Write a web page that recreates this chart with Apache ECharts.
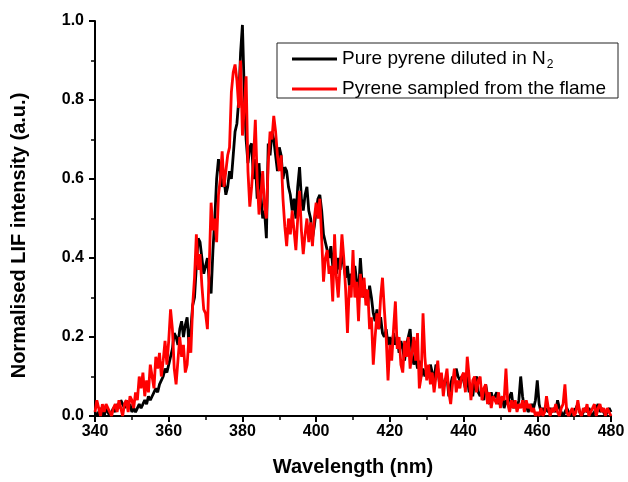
<!DOCTYPE html>
<html>
<head>
<meta charset="utf-8">
<script src="https://cdn.jsdelivr.net/npm/echarts@6/dist/echarts.min.js"></script>
<style>
html,body{margin:0;padding:0;background:#fff;}
#chart{width:628px;height:482px;}
</style>
</head>
<body>
<div id="chart"></div>
<script>
// Wavelength grid: 340 to 480 nm, sampled every 0.5 nm
var wlStart = 340, wlStep = 0.5;
var xTicks = [340, 360, 380, 400, 420, 440, 460, 480];
var yTicks = [0.0, 0.2, 0.4, 0.6, 0.8, 1.0];
var seriesNames = ['Pure pyrene diluted in N2', 'Pyrene sampled from the flame'];

// Pure pyrene diluted in N2 (normalised LIF)
var purePyrene = [
  // 340-349.5
  0.01,0.00,0.01,0.02,0.01,0.00,0.02,0.01,0.00,0.01,0.02,0.01,0.03,0.02,0.04,0.03,0.02,0.04,0.02,0.03,
  // 350-359.5
  0.01,0.02,0.01,0.02,0.03,0.02,0.03,0.04,0.03,0.05,0.04,0.05,0.06,0.07,0.06,0.08,0.09,0.10,0.12,0.11,
  // 360-369.5
  0.13,0.15,0.17,0.21,0.20,0.18,0.22,0.24,0.20,0.23,0.25,0.18,0.22,0.28,0.30,0.38,0.45,0.44,0.40,0.36,
  // 370-379.5
  0.36,0.40,0.34,0.31,0.42,0.50,0.60,0.65,0.62,0.58,0.60,0.56,0.58,0.62,0.60,0.66,0.72,0.74,0.80,0.92,
  // 380-389.5
  0.99,0.82,0.70,0.64,0.68,0.69,0.60,0.65,0.55,0.64,0.56,0.50,0.52,0.45,0.69,0.66,0.72,0.70,0.66,0.62,
  // 390-399.5
  0.68,0.66,0.60,0.63,0.62,0.58,0.56,0.52,0.55,0.50,0.58,0.63,0.55,0.52,0.56,0.58,0.52,0.50,0.45,0.48,
  // 400-409.5
  0.52,0.55,0.56,0.52,0.46,0.44,0.42,0.40,0.43,0.38,0.41,0.36,0.40,0.37,0.42,0.38,0.35,0.38,0.33,0.36,
  // 410-419.5
  0.35,0.38,0.34,0.31,0.40,0.33,0.30,0.32,0.28,0.33,0.30,0.26,0.24,0.27,0.22,0.25,0.21,0.20,0.22,0.18,
  // 420-429.5
  0.20,0.17,0.21,0.18,0.20,0.16,0.19,0.17,0.14,0.18,0.20,0.22,0.16,0.13,0.15,0.12,0.14,0.10,0.12,0.10,
  // 430-439.5
  0.12,0.10,0.13,0.11,0.09,0.13,0.12,0.08,0.10,0.07,0.09,0.10,0.05,0.08,0.10,0.09,0.12,0.10,0.09,0.10,
  // 440-449.5
  0.09,0.07,0.10,0.06,0.08,0.05,0.09,0.10,0.06,0.05,0.07,0.04,0.08,0.05,0.03,0.06,0.04,0.05,0.06,0.03,
  // 450-459.5
  0.03,0.05,0.02,0.04,0.03,0.05,0.06,0.02,0.03,0.02,0.04,0.10,0.05,0.02,0.03,0.01,0.02,0.03,0.02,0.04,
  // 460-469.5
  0.09,0.03,0.01,0.02,0.01,0.02,0.01,0.02,0.01,0.02,0.01,0.04,0.02,0.01,0.00,0.01,0.02,0.01,0.00,0.01,
  // 470-480
  0.01,0.02,0.03,0.01,0.00,0.01,0.02,0.01,0.02,0.01,0.00,0.01,0.02,0.03,0.01,0.02,0.01,0.00,0.01,0.02,0.01
];

// Pyrene sampled from the flame (normalised LIF)
var flamePyrene = [
  // 340-349.5
  0.01,0.04,0.02,0.00,0.03,0.01,0.03,0.02,0.01,0.00,0.02,0.03,0.01,0.04,0.02,0.00,0.03,0.04,0.01,0.05,
  // 350-359.5
  0.04,0.02,0.06,0.04,0.10,0.07,0.11,0.05,0.09,0.06,0.13,0.10,0.07,0.15,0.12,0.16,0.10,0.14,0.19,0.13,
  // 360-369.5
  0.19,0.27,0.22,0.12,0.08,0.14,0.20,0.15,0.18,0.11,0.13,0.20,0.16,0.28,0.35,0.46,0.37,0.41,0.33,0.27,
  // 370-379.5
  0.26,0.22,0.38,0.54,0.47,0.50,0.44,0.56,0.60,0.67,0.58,0.62,0.66,0.68,0.82,0.87,0.89,0.85,0.78,0.90,
  // 380-389.5
  0.71,0.78,0.86,0.62,0.53,0.58,0.65,0.75,0.60,0.51,0.56,0.62,0.53,0.50,0.64,0.72,0.70,0.76,0.72,0.66,
  // 390-399.5
  0.62,0.66,0.55,0.48,0.43,0.50,0.46,0.52,0.47,0.42,0.50,0.57,0.47,0.41,0.46,0.50,0.44,0.49,0.43,0.50,
  // 400-409.5
  0.54,0.50,0.55,0.45,0.34,0.40,0.42,0.36,0.38,0.29,0.46,0.35,0.30,0.38,0.46,0.40,0.32,0.21,0.33,0.30,
  // 410-419.5
  0.42,0.30,0.34,0.24,0.36,0.30,0.35,0.28,0.32,0.22,0.25,0.13,0.20,0.26,0.22,0.30,0.35,0.27,0.20,0.09,
  // 420-429.5
  0.18,0.14,0.22,0.29,0.17,0.20,0.13,0.11,0.19,0.15,0.20,0.12,0.16,0.20,0.14,0.21,0.07,0.10,0.26,0.15,
  // 430-439.5
  0.09,0.13,0.08,0.11,0.06,0.10,0.14,0.07,0.11,0.05,0.09,0.12,0.06,0.03,0.08,0.12,0.06,0.09,0.07,0.10,
  // 440-449.5
  0.11,0.06,0.15,0.10,0.04,0.09,0.10,0.06,0.09,0.10,0.04,0.07,0.08,0.03,0.06,0.02,0.05,0.04,0.03,0.06,
  // 450-459.5
  0.02,0.05,0.04,0.12,0.03,0.01,0.04,0.02,0.04,0.01,0.03,0.02,0.04,0.01,0.04,0.02,0.03,0.01,0.02,0.00,
  // 460-469.5
  0.01,0.00,0.02,0.00,0.01,0.05,0.02,0.00,0.02,0.01,0.03,0.01,0.00,0.02,0.03,0.08,0.01,0.00,0.01,0.02,
  // 470-480
  0.00,0.01,0.04,0.01,0.00,0.02,0.01,0.03,0.00,0.01,0.02,0.03,0.00,0.02,0.03,0.01,0.02,0.00,0.02,0.01,0.00
];

function pairs(vals) {
  return vals.map(function (v, i) { return [wlStart + i * wlStep, v]; });
}

var chart = echarts.init(document.getElementById('chart'), null, {renderer: 'canvas'});
var FONT = 'Liberation Sans, Arial, sans-serif';
var option = {
  animation: false,
  backgroundColor: '#fff',
  grid: {left: 95, right: 17, top: 21, bottom: 66, containLabel: false},
  legend: {
    orient: 'vertical',
    left: 277, top: 43,
    data: seriesNames,
    icon: 'rect',
    itemWidth: 45, itemHeight: 3,
    itemGap: 7,
    padding: [4, 12, -2, 15],
    borderColor: '#222', borderWidth: 1,
    textStyle: {
      fontFamily: FONT, fontSize: 19, color: '#000', lineHeight: 22,
      rich: {
        a: {fontFamily: FONT, fontSize: 19, color: '#000', lineHeight: 22},
        s: {fontFamily: FONT, fontSize: 12, color: '#000', lineHeight: 22, padding: [12, 0, 0, 1]}
      }
    },
    formatter: function (name) {
      if (name === seriesNames[0]) return '{a|Pure pyrene diluted in N}{s|2}';
      return '{a|' + name + '}';
    }
  },
  xAxis: {
    type: 'value', min: 340, max: 480, interval: 20,
    name: 'Wavelength (nm)', nameLocation: 'middle', nameGap: 41,
    nameTextStyle: {fontFamily: FONT, fontSize: 20, fontWeight: 'bold', color: '#000'},
    axisLine: {show: true, onZero: false, lineStyle: {color: '#000', width: 2}},
    axisTick: {show: true, inside: false, length: 6, lineStyle: {color: '#000', width: 2}},
    minorTick: {show: true, splitNumber: 2, length: 4, lineStyle: {color: '#000', width: 1.5}},
    splitLine: {show: false},
    axisLabel: {
      fontFamily: FONT, fontSize: 16, fontWeight: 'bold', color: '#000', margin: 8,
      formatter: function (v) { return xTicks.indexOf(v) >= 0 ? String(v) : ''; }
    }
  },
  yAxis: {
    type: 'value', min: 0, max: 1.0, interval: 0.2,
    name: 'Normalised LIF intensity (a.u.)', nameLocation: 'middle', nameGap: 66,
    nameTextStyle: {fontFamily: FONT, fontSize: 20, fontWeight: 'bold', color: '#000', padding: [0, 34, 0, 0]},
    axisLine: {show: true, lineStyle: {color: '#000', width: 2}},
    axisTick: {show: true, inside: false, length: 6, lineStyle: {color: '#000', width: 2}},
    minorTick: {show: true, splitNumber: 2, length: 4, lineStyle: {color: '#000', width: 1.5}},
    splitLine: {show: false},
    axisLabel: {
      fontFamily: FONT, fontSize: 16, fontWeight: 'bold', color: '#000', margin: 11,
      formatter: function (v) {
        for (var i = 0; i < yTicks.length; i++) if (Math.abs(yTicks[i] - v) < 1e-9) return yTicks[i].toFixed(1);
        return '';
      }
    }
  },
  series: [
    {
      name: seriesNames[0], type: 'line', data: pairs(purePyrene),
      showSymbol: false, symbol: 'none', color: '#000',
      lineStyle: {color: '#000', width: 2.8}, z: 2
    },
    {
      name: seriesNames[1], type: 'line', data: pairs(flamePyrene),
      showSymbol: false, symbol: 'none', color: '#ff0000',
      lineStyle: {color: '#ff0000', width: 2.8}, z: 3
    }
  ]
};
chart.setOption(option);
</script>
</body>
</html>
